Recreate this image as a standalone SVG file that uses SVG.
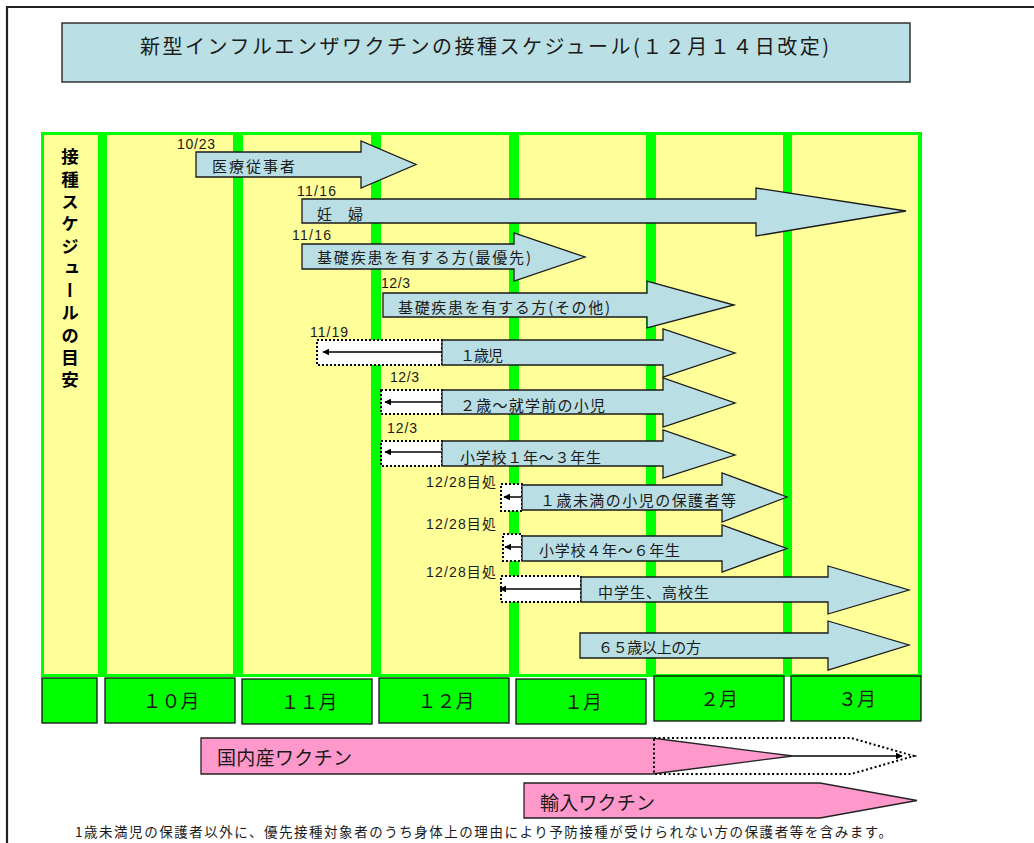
<svg xmlns="http://www.w3.org/2000/svg" width="1034" height="843" viewBox="0 0 1034 843">
<defs>
<style>
.jp{font-family:'Noto Sans CJK JP','Noto Sans CJK SC',sans-serif;fill:#1a1a1a}
.dt{font-family:'Liberation Sans',Arial,sans-serif;font-size:14px;fill:#1a1a1a}
.arr{fill:#B9DEE4;stroke:#1a1a1a;stroke-width:1.3}
.lab{font-size:15px}
.dot{fill:#fff;stroke:#000;stroke-width:2;stroke-dasharray:2 2}
.yel{fill:#FFFF99}
.mon{fill:#00FF00;stroke:#111;stroke-width:1.3}
.mt{font-size:19px;text-anchor:middle}
.pink{fill:#FF99CC;stroke:#222;stroke-width:1.3}
.vt{font-size:17.5px;font-weight:bold;fill:#000;writing-mode:vertical-rl;letter-spacing:4.8px}
.cn{stroke:#000;stroke-width:1.5;fill:none;marker-end:url(#ah)}
</style>
<marker id="ah" viewBox="0 0 10 10" refX="9" refY="5" markerWidth="4.5" markerHeight="4.5" orient="auto"><path d="M0,0 L10,5 L0,10 z" fill="#000"/></marker>
</defs>
<rect width="1034" height="843" fill="#fff"/>
<g id="frame" stroke="#222" stroke-width="2.2" fill="none">
<line x1="6" y1="7" x2="1034" y2="7"/>
<line x1="7" y1="6" x2="7" y2="843"/>
</g>
<g id="title">
<rect x="62" y="23" width="848" height="59" fill="#BADFE4" stroke="#333" stroke-width="1.5"/>
<text class="jp" x="140" y="54" font-size="20" textLength="689">新型インフルエンザワクチンの接種スケジュール(１２月１４日改定)</text>
</g>
<g id="columns">
<rect x="41" y="132" width="881" height="545" fill="#00FF00"/>
<rect class="yel" x="44" y="135" width="54" height="539"/>
<rect class="yel" x="107" y="135" width="126" height="539"/>
<rect class="yel" x="243" y="135" width="128" height="539"/>
<rect class="yel" x="381" y="135" width="128" height="539"/>
<rect class="yel" x="519" y="135" width="127" height="539"/>
<rect class="yel" x="656" y="135" width="127" height="539"/>
<rect class="yel" x="792" y="135" width="126" height="539"/>
</g>
<g id="col-label" class="jp">
<text class="vt" x="70" y="148">接種スケジュールの目安</text>
</g>
<g id="dates" class="dt">
<text x="177" y="149" textLength="38">10/23</text>
<text x="297" y="196" textLength="39">11/16</text>
<text x="292" y="240" textLength="39">11/16</text>
<text x="381" y="288" textLength="29">12/3</text>
<text x="310" y="337" textLength="38">11/19</text>
<text x="390" y="382" textLength="29">12/3</text>
<text x="387" y="433" textLength="30">12/3</text>
<text x="426" y="487" textLength="70">12/28<tspan class="jp">目処</tspan></text>
<text x="426" y="529" textLength="70">12/28<tspan class="jp">目処</tspan></text>
<text x="426" y="577" textLength="70">12/28<tspan class="jp">目処</tspan></text>
</g>
<g id="early-boxes">
<rect class="dot" x="317" y="340" width="125" height="25"/>
<rect class="dot" x="381" y="390" width="61" height="24"/>
<rect class="dot" x="381" y="441" width="61" height="25"/>
<rect class="dot" x="501" y="484" width="21" height="27"/>
<rect class="dot" x="503" y="534" width="19" height="27"/>
<rect class="dot" x="501" y="576" width="80" height="26"/>
</g>
<g id="connectors">
<line class="cn" x1="441" y1="352" x2="323" y2="352"/>
<line class="cn" x1="441" y1="402" x2="385" y2="402"/>
<line class="cn" x1="441" y1="452" x2="385" y2="452"/>
<line class="cn" x1="521" y1="497" x2="504" y2="497"/>
<line class="cn" x1="521" y1="547" x2="505" y2="547"/>
<line class="cn" x1="580" y1="589" x2="500" y2="589"/>
<line class="cn" x1="793" y1="756" x2="902" y2="756"/>
</g>
<g id="n-iryo"><polygon class="arr" points="196,152 361,152 361,141 416,164.5 361,188 361,177 196,177"/><text class="jp lab" x="212" y="172" textLength="83">医療従事者</text></g>
<g id="n-ninpu"><polygon class="arr" points="302,199 756,199 756,188 906,211 756,236 756,223 302,223"/><text class="jp lab" x="317" y="220" textLength="46">妊　婦</text></g>
<g id="n-kiso1"><polygon class="arr" points="302,244 514,244 514,233 585,257 514,281 514,269 302,269"/><text class="jp lab" x="317" y="263" textLength="214">基礎疾患を有する方(最優先)</text></g>
<g id="n-kiso2"><polygon class="arr" points="383,293 647,293 647,281 734,305 647,328 647,317 383,317"/><text class="jp lab" x="398" y="313" textLength="212">基礎疾患を有する方(その他)</text></g>
<g id="n-1sai"><polygon class="arr" points="442,340 663,340 663,329 735,353 663,377 663,365 442,365"/><text class="jp lab" x="460" y="361" textLength="43">１歳児</text></g>
<g id="n-2sai"><polygon class="arr" points="442,390 663,390 663,378 735,403 663,427 663,414 442,414"/><text class="jp lab" x="460" y="411" textLength="145">２歳～就学前の小児</text></g>
<g id="n-sho13"><polygon class="arr" points="442,441 663,441 663,430 735,455 663,478 663,466 442,466"/><text class="jp lab" x="460" y="463" textLength="141">小学校１年～３年生</text></g>
<g id="n-hogosha"><polygon class="arr" points="522,485 722,485 722,473 787,497 722,522 722,510 522,510"/><text class="jp lab" x="540" y="506" textLength="196">１歳未満の小児の保護者等</text></g>
<g id="n-sho46"><polygon class="arr" points="522,536 722,536 722,525 787,548.5 722,572 722,561 522,561"/><text class="jp lab" x="539" y="556" textLength="141">小学校４年～６年生</text></g>
<g id="n-chuko"><polygon class="arr" points="581,577 828,577 828,566 909,590 828,614 828,602 581,602"/><text class="jp lab" x="598" y="598" textLength="111">中学生、高校生</text></g>
<g id="n-65"><polygon class="arr" points="580,633 828,633 828,621 909,645 828,670 828,658 580,658"/><text class="jp lab" x="598" y="653" textLength="103">６５歳以上の方</text></g>
<g id="months">
<rect class="mon" x="42" y="678" width="55" height="45"/>
<rect class="mon" x="105" y="678" width="130" height="45"/>
<rect class="mon" x="242" y="679" width="130" height="45"/>
<rect class="mon" x="379" y="678" width="130" height="45"/>
<rect class="mon" x="516" y="679" width="130" height="45"/>
<rect class="mon" x="654" y="676" width="130" height="45"/>
<rect class="mon" x="791" y="676" width="130" height="45"/>
<text class="jp mt" x="171" y="708">１０月</text>
<text class="jp mt" x="309" y="709">１１月</text>
<text class="jp mt" x="446" y="708">１２月</text>
<text class="jp mt" x="583" y="709">１月</text>
<text class="jp mt" x="719" y="706">２月</text>
<text class="jp mt" x="857" y="706">３月</text>
</g>
<g id="n-kokunai">
<polygon class="pink" points="201,738 652,738 793,756 652,774 201,774"/>
<polygon points="654,738 851,738 914,756 851,774 654,774" fill="none" stroke="#000" stroke-width="2" stroke-dasharray="2 2.5"/>
<text class="jp" x="217" y="765" font-size="19" textLength="135">国内産ワクチン</text>
</g>
<g id="n-yunyu">
<polygon class="pink" points="524,783 820,783 917,800.5 820,818 524,818"/>
<text class="jp" x="540" y="810" font-size="19" textLength="115">輸入ワクチン</text>
</g>
<g id="note">
<text class="jp" x="75" y="837" font-size="13.5" textLength="817">1歳未満児の保護者以外に、優先接種対象者のうち身体上の理由により予防接種が受けられない方の保護者等を含みます。</text>
</g>
</svg>
